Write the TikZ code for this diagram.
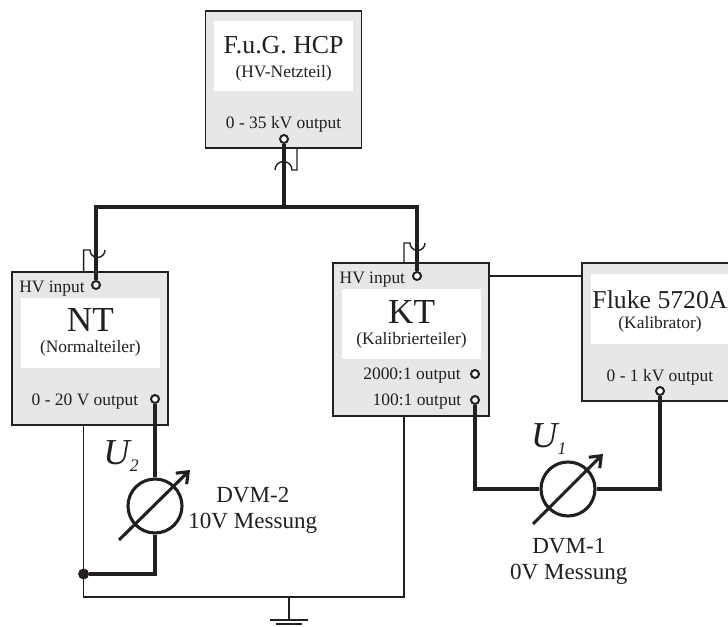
\documentclass[tikz,border=0pt]{standalone}
\usepackage{fontspec}
\setmainfont{Liberation Serif}
\definecolor{boxgray}{RGB}{230,231,232}
\definecolor{inkdark}{RGB}{35,31,32}
\usetikzlibrary{arrows.meta,calc}
\newcommand{\namesize}{\fontsize{18.4}{17}\selectfont}
\newcommand{\tagsize}{\fontsize{25}{17}\selectfont}
\newcommand{\msize}{\fontsize{16.4}{18.5}\selectfont}

\begin{document}
\begin{tikzpicture}[
  every node/.style={text=inkdark},
  devbox/.style={draw=inkdark, line width=1pt, fill=boxgray, minimum width=3.9cm},
  whitebox/.style={fill=white, minimum width=3.475cm, minimum height=1.75cm, inner sep=0pt,
    align=center, font=\fontsize{12.4}{17}\selectfont},
  portlabel/.style={inner sep=0pt, font=\fontsize{12.4}{15}\selectfont},
  termpin/.style={circle, draw=inkdark, line width=1.4pt, fill=white, inner sep=0pt, minimum size=0.2cm},
  thinwire/.style={draw=inkdark, line width=1pt},
  buswire/.style={draw=inkdark, line width=2.9pt},
  meterwire/.style={draw=inkdark, line width=2.2pt},
  meter/.style={circle, draw=inkdark, line width=2.2pt, inner sep=0pt, minimum size=1.35cm},
  meterarrow/.style={draw=inkdark, line width=2.2pt, -{Straight Barb[length=7pt,width=11pt]}},
  metertext/.style={inner sep=0pt, align=center, font=\msize}]

\clip (0,0) rectangle (18.2,15.675);

% Ground rail first, boxes cover its ends
\coordinate (ntshield) at (2.09,9.425);
\coordinate (ktshield) at (10.1,9.6);
\coordinate (hcpshield) at (7.425,11.425);
\coordinate (gnd) at (7.225,0.75);
\coordinate (gndbar) at (7.225,0.175);
\coordinate (gndbar2) at (7.225,0.075);
\coordinate (bus) at (7.1,10.51);

% Devices
\node[devbox, minimum height=3.425cm] (hcp) at (7.09,13.69) {};
\node[whitebox] (hcpname) at (7.09,14.275) {{\namesize\rule{0pt}{16.5pt}F.u.G. HCP}\\(HV-Netzteil)};
\node[portlabel] (hcplabel) at (7.09,12.575) {0 - 35 kV output};
\node[termpin] (hcpout) at (7.1,12.2) {};

\node[devbox, minimum height=3.825cm] (nt) at (2.25,6.96) {};
\node[whitebox] (ntname) at (2.26,7.36) {{\tagsize NT}\\[-2pt](Normalteiler)};
\node[portlabel] (nthvlabel) at (1.3,8.46) {HV input};
\node[portlabel] (ntlabel) at (2.125,5.64) {0 - 20 V output};
\node[termpin] (nthv) at (2.4,8.55) {};
\node[termpin] (ntout) at (3.875,5.7) {};

\node[devbox, minimum height=3.825cm] (kt) at (10.275,7.19) {};
\node[whitebox] (ktname) at (10.29,7.575) {{\tagsize KT}\\[-2pt](Kalibrierteiler)};
\node[portlabel] (kthvlabel) at (9.31,8.69) {HV input};
\node[portlabel] (kthighlabel) at (10.3,6.275) {2000:1 output};
\node[portlabel] (ktlowlabel) at (10.425,5.64) {100:1 output};
\node[termpin] (kthv) at (10.425,8.775) {};
\node[termpin] (kthigh) at (11.875,6.325) {};
\node[termpin] (ktlow) at (11.875,5.675) {};

\node[devbox, minimum height=3.45cm] (fluke) at (16.5,7.375) {};
\node[whitebox] (flukename) at (16.5,7.95) {{\fontsize{18.3}{16}\selectfont\rule{0pt}{15.8pt}Fluke 5720A}\\[-3pt](Kalibrator)};
\node[portlabel] (flukelabel) at (16.5,6.25) {0 - 1 kV output};
\node[termpin] (flukeout) at (16.5,5.9) {};

% HV bus
\draw[buswire] (hcpout) -- (bus);
\draw[buswire] (nthv) |- (bus) -| (kthv);

% Shields
\draw[thinwire] (hcp.south -| hcpshield) -- (hcpshield) -- ++(-0.125,0) arc[start angle=0, end angle=180, radius=0.2125];
\draw[thinwire] (nt.north -| ntshield) -- (ntshield) -- ++(0.16,0) arc[start angle=180, end angle=360, radius=0.1875];
\draw[thinwire] (kt.north -| ktshield) -- (ktshield) -- ++(0.15,0) arc[start angle=180, end angle=360, radius=0.1875];
\draw[thinwire] (kt.east |- 0,8.775) -- (fluke.west |- 0,8.775);

% Ground
\draw[thinwire] (nt.south -| ntshield) |- (gnd) -| (kt.south -| ktshield);
\draw[thinwire] (gnd) -- (gndbar);
\draw[thinwire] ($(gndbar)+(-0.475,0)$) -- ($(gndbar)+(0.475,0)$);
\draw[thinwire] ($(gndbar2)+(-0.33,0)$) -- ($(gndbar2)+(0.33,0)$);

% DVM-2
\node[meter] (dvmb) at (3.875,3.025) {};
\node[circle, fill=inkdark, inner sep=0pt, minimum size=0.275cm] (joint) at (2.09,1.325) {};
\draw[meterwire] (ntout) -- (dvmb);
\draw[meterwire] (dvmb) |- (joint);
\draw[meterarrow] ($(dvmb)+(-0.9,-0.85)$) -- ($(dvmb)+(0.875,0.9)$);
\node[metertext] (dvmbtext) at (6.32,2.905) {DVM-2\\10V Messung};
\node[inner sep=0pt] (ub) at (3.025,4.275) {\fontsize{26}{26}\selectfont\itshape U\raisebox{-5pt}{\fontsize{12.5}{12.5}\selectfont 2}};

% DVM-1
\node[meter] (dvma) at (14.2,3.45) {};
\draw[meterwire] (ktlow) |- (dvma);
\draw[meterwire] (dvma) -| (flukeout);
\draw[meterarrow] ($(dvma)+(-0.875,-0.875)$) -- ($(dvma)+(0.875,0.875)$);
\node[metertext] (dvmatext) at (14.22,1.65) {DVM-1\\0V Messung};
\node[inner sep=0pt] (ua) at (13.72,4.7) {\fontsize{26}{26}\selectfont\itshape U\raisebox{-5pt}{\fontsize{12.5}{12.5}\selectfont 1}};

\end{tikzpicture}
\end{document}
